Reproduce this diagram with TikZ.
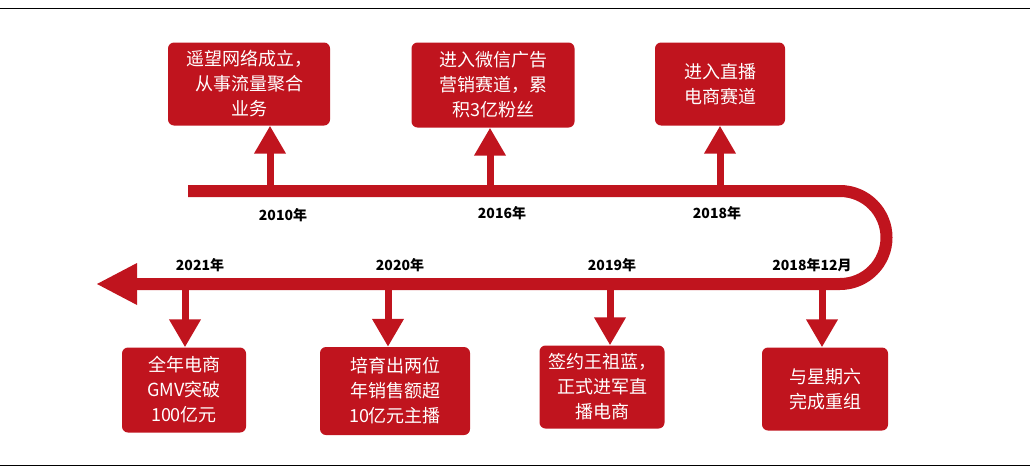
\documentclass[tikz,border=0pt]{standalone}
\usepackage{fontspec}
\setmainfont{Noto Sans CJK SC}
\usetikzlibrary{arrows.meta}
\definecolor{tred}{HTML}{C0141E}
\tikzset{
  event/.style={fill=tred, rounded corners=6pt, text=white, font=\fontsize{18}{25}\selectfont, align=center, inner sep=0pt},
  year/.style={font=\bfseries\fontsize{14}{16}\selectfont},
  tick/.style={tred, line width=7pt, -{Triangle[width=30pt,length=28pt]}}
}
\begin{document}
\begin{tikzpicture}[x=1pt, y=-1pt]
  \useasboundingbox (0,0) rectangle (1030,471);
  \draw[line width=1pt] (0,8) -- (1030,8);
  \draw[line width=1pt] (0,465) -- (1030,465);

  % timeline band
  \draw[tred, line width=12pt] (188,191) -- (840,191) arc[start angle=-90, end angle=90, radius=46.5] -- (130,284);
  \fill[tred] (97,284) -- (137,263) -- (137,305) -- cycle;

  % upper events
  \node[event, minimum width=162pt, minimum height=83pt] (E10) at (249,84) {遥望网络成立，\\从事流量聚合\\业务};
  \node[event, minimum width=163pt, minimum height=85pt] (E16) at (493,85) {进入微信广告\\营销赛道，累\\积3亿粉丝};
  \node[event, minimum width=130pt, minimum height=83pt] (E18) at (720,84) {进入直播\\电商赛道};
  \coordinate (T10) at (270,191);
  \coordinate (T16) at (490,191);
  \coordinate (T18) at (720,191);
  \draw[tick] (T10) -- (E10.south -| T10);
  \draw[tick] (T16) -- (E16.south -| T16);
  \draw[tick] (T18) -- (E18.south -| T18);
  \node[year] at (283,215) {2010年};
  \node[year] at (502,213) {2016年};
  \node[year] at (717,213) {2018年};

  % lower events
  \node[event, minimum width=124pt, minimum height=85pt] (E21) at (184,390) {全年电商\\GMV突破\\100亿元};
  \node[event, minimum width=150pt, minimum height=88pt] (E20) at (395,391) {培育出两位\\年销售额超\\10亿元主播};
  \node[event, minimum width=125pt, minimum height=83pt] (E19) at (602,387) {签约王祖蓝，\\正式进军直\\播电商};
  \node[event, minimum width=126pt, minimum height=83pt] (E1812) at (825,389) {与星期六\\完成重组};
  \coordinate (T21) at (185,284);
  \coordinate (T20) at (388,284);
  \coordinate (T19) at (610,284);
  \coordinate (T1812) at (822,284);
  \draw[tick] (T21) -- (E21.north -| T21);
  \draw[tick] (T20) -- (E20.north -| T20);
  \draw[tick] (T19) -- (E19.north -| T19);
  \draw[tick] (T1812) -- (E1812.north -| T1812);
  \node[year] at (200,265) {2021年};
  \node[year] at (400,265) {2020年};
  \node[year] at (612,265) {2019年};
  \node[year] at (812,265) {2018年12月};
\end{tikzpicture}
\end{document}
